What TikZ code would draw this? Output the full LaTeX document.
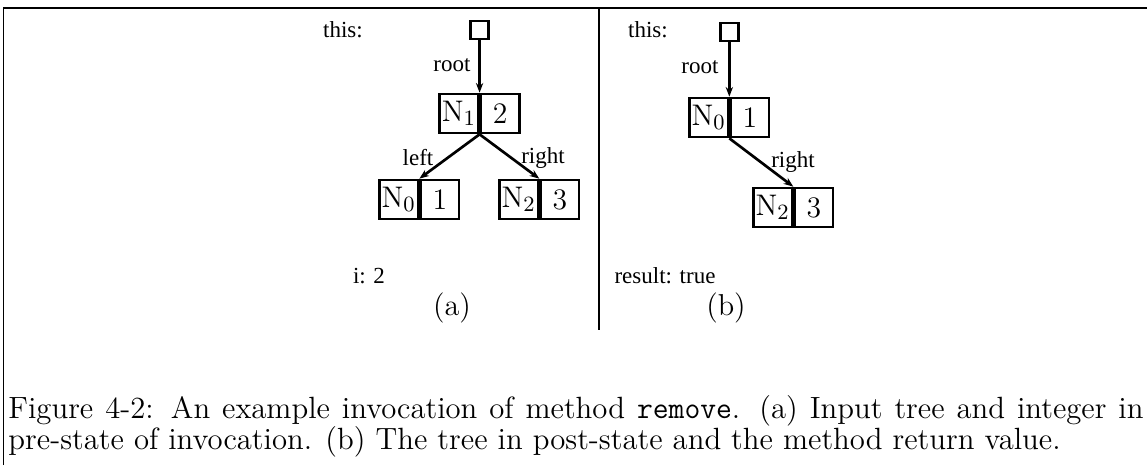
\documentclass[tikz,border=0pt]{standalone}
\usepackage{fontspec}
\newfontfamily\tms{Liberation Serif}
\usetikzlibrary{arrows.meta}
\begin{document}
\begin{tikzpicture}[x=0.4132pt,y=-0.4132pt,
  lbl/.style={font=\tms\fontsize{9.5}{11}\selectfont, inner sep=0pt},
  cell/.style={draw, line width=1.1pt, minimum width=15.9pt, minimum height=16.1pt, inner sep=0pt, font=\fontsize{12.3}{14}\selectfont},
  ptr/.style={line width=1.1pt, -{Stealth[length=4pt,width=3pt]}},
  sq/.style={draw, line width=1.1pt, minimum size=7.4pt, inner sep=0pt},
  sub/.style={font=\fontsize{12.5}{14}\selectfont, inner sep=0pt},
  capt/.style={font=\fontsize{12.7}{15}\selectfont, inner sep=0pt, anchor=base west},
  frame/.style={line width=0.8pt}]
\useasboundingbox (0,0) rectangle (1147,465);
% frame
\coordinate (tl) at (3.5,8);
\coordinate (tr) at (1147,8);
\coordinate (bl) at (3.5,465);
\draw[frame] (bl) -- (tl) -- (tr);
% divider
\coordinate (dt) at (599,8);
\coordinate (db) at (599,330);
\draw[line width=0.6pt] (dt) -- (db);
% (a)
\node[cell] (a1k) at (459,113.5) {$\mathrm{N}_1$};
\node[cell,anchor=west] (a1v) at (a1k.east) {2};
\node[sq] (asq) at (a1k.north east |- 0,30) {};
\node[lbl] (athis) at (343,30) {this:};
\node[cell] (a0k) at (398.75,199.5) {$\mathrm{N}_0$};
\node[cell,anchor=west] (a0v) at (a0k.east) {1};
\node[cell] (a2k) at (518.75,199.5) {$\mathrm{N}_2$};
\node[cell,anchor=west] (a2v) at (a2k.east) {3};
\draw[ptr] (asq.south) -- (a1k.north east);
\draw[ptr] (a1k.south east) -- (a0k.north east);
\draw[ptr] (a1k.south east) -- (a2k.north east);
\node[lbl] (aroot) at (452,65) {root};
\node[lbl] (aleft) at (418,158) {left};
\node[lbl] (aright) at (543,158) {right};
\node[lbl] (ai) at (369,276) {i: 2};
\node[sub] (acap) at (452,308) {(a)};
% (b)
\node[cell] (b0k) at (708.75,117.5) {$\mathrm{N}_0$};
\node[cell,anchor=west] (b0v) at (b0k.east) {1};
\node[sq] (bsq) at (b0k.north east |- 0,32) {};
\node[lbl] (bthis) at (648,30) {this:};
\node[cell] (b2k) at (772.75,207.5) {$\mathrm{N}_2$};
\node[cell,anchor=west] (b2v) at (b2k.east) {3};
\draw[ptr] (bsq.south) -- (b0k.north east);
\draw[ptr] (b0k.south east) -- (b2k.north east);
\node[lbl] (broot) at (700,67) {root};
\node[lbl] (bright) at (793,162) {right};
\node[lbl] (bres) at (665,276) {result: true};
\node[sub] (bcap) at (726,308) {(b)};
% caption
\node[capt] (cap1) at (8,418) {\makebox[469pt][s]{Figure 4-2: An example invocation of method \texttt{remove}. (a) Input tree and integer in}};
\node[capt] (cap2) at (8,449) {pre-state of invocation. (b) The tree in post-state and the method return value.};
\end{tikzpicture}
\end{document}
